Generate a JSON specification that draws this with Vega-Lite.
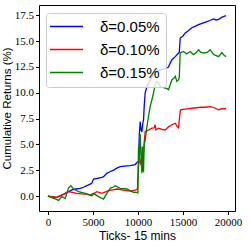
{
  "$schema": "https://vega.github.io/schema/vega-lite/v6.json",
  "width": 196,
  "height": 206,
  "autosize": {"type": "none"},
  "padding": {"left": 39, "top": 5, "right": 14, "bottom": 38},
  "config": {
    "view": {"stroke": "#000000", "strokeWidth": 1},
    "axis": {
      "labelFont": "Liberation Serif",
      "labelFontSize": 11,
      "labelColor": "#000000",
      "titleFont": "Liberation Sans",
      "titleFontSize": 12,
      "titleFontWeight": "normal",
      "titleColor": "#000000",
      "tickColor": "#000000",
      "tickSize": 3.5,
      "labelPadding": 2,
      "domain": false,
      "grid": false
    }
  },
  "datasets": {
    "returns": [
      {"x": 0, "y": 0, "s": "δ=0.05%"}, {"x": 300, "y": -0.05, "s": "δ=0.05%"}, {"x": 600, "y": -0.1, "s": "δ=0.05%"}, {"x": 1000, "y": -0.13, "s": "δ=0.05%"}, {"x": 1300, "y": 0.0, "s": "δ=0.05%"}, {"x": 1740, "y": 0.16, "s": "δ=0.05%"}, {"x": 2000, "y": 0.3, "s": "δ=0.05%"}, {"x": 2300, "y": 0.42, "s": "δ=0.05%"}, {"x": 2670, "y": 0.6, "s": "δ=0.05%"}, {"x": 3100, "y": 0.68, "s": "δ=0.05%"}, {"x": 3590, "y": 0.75, "s": "δ=0.05%"}, {"x": 3950, "y": 0.85, "s": "δ=0.05%"}, {"x": 4330, "y": 1.0, "s": "δ=0.05%"}, {"x": 4700, "y": 1.15, "s": "δ=0.05%"}, {"x": 4890, "y": 1.25, "s": "δ=0.05%"}, {"x": 5070, "y": 1.65, "s": "δ=0.05%"}, {"x": 5500, "y": 1.72, "s": "δ=0.05%"}, {"x": 6000, "y": 1.8, "s": "δ=0.05%"}, {"x": 6180, "y": 1.87, "s": "δ=0.05%"}, {"x": 6550, "y": 2.2, "s": "δ=0.05%"}, {"x": 6900, "y": 2.35, "s": "δ=0.05%"}, {"x": 7290, "y": 2.5, "s": "δ=0.05%"}, {"x": 7650, "y": 2.7, "s": "δ=0.05%"}, {"x": 8030, "y": 2.85, "s": "δ=0.05%"}, {"x": 8500, "y": 2.9, "s": "δ=0.05%"}, {"x": 9140, "y": 2.95, "s": "δ=0.05%"}, {"x": 9700, "y": 3.05, "s": "δ=0.05%"}, {"x": 9950, "y": 3.3, "s": "δ=0.05%"}, {"x": 10070, "y": 3.35, "s": "δ=0.05%"}, {"x": 10150, "y": 5.8, "s": "δ=0.05%"}, {"x": 10250, "y": 7.2, "s": "δ=0.05%"}, {"x": 10350, "y": 6.4, "s": "δ=0.05%"}, {"x": 10440, "y": 6.2, "s": "δ=0.05%"}, {"x": 10540, "y": 7.0, "s": "δ=0.05%"}, {"x": 10630, "y": 7.4, "s": "δ=0.05%"}, {"x": 10700, "y": 8.7, "s": "δ=0.05%"}, {"x": 10810, "y": 10.0, "s": "δ=0.05%"}, {"x": 11000, "y": 10.6, "s": "δ=0.05%"}, {"x": 11180, "y": 10.9, "s": "δ=0.05%"}, {"x": 11370, "y": 11.26, "s": "δ=0.05%"}, {"x": 11550, "y": 11.5, "s": "δ=0.05%"}, {"x": 11740, "y": 11.75, "s": "δ=0.05%"}, {"x": 11920, "y": 11.95, "s": "δ=0.05%"}, {"x": 12110, "y": 12.07, "s": "δ=0.05%"}, {"x": 12480, "y": 12.2, "s": "δ=0.05%"}, {"x": 12850, "y": 12.3, "s": "δ=0.05%"}, {"x": 13200, "y": 12.4, "s": "δ=0.05%"}, {"x": 13400, "y": 12.5, "s": "δ=0.05%"}, {"x": 13600, "y": 12.9, "s": "δ=0.05%"}, {"x": 13780, "y": 13.2, "s": "δ=0.05%"}, {"x": 14150, "y": 13.5, "s": "δ=0.05%"}, {"x": 14520, "y": 13.85, "s": "δ=0.05%"}, {"x": 14600, "y": 13.9, "s": "δ=0.05%"}, {"x": 14700, "y": 15.3, "s": "δ=0.05%"}, {"x": 15000, "y": 15.5, "s": "δ=0.05%"}, {"x": 15260, "y": 15.8, "s": "δ=0.05%"}, {"x": 15600, "y": 16.0, "s": "δ=0.05%"}, {"x": 16000, "y": 16.3, "s": "δ=0.05%"}, {"x": 16400, "y": 16.45, "s": "δ=0.05%"}, {"x": 16740, "y": 16.6, "s": "δ=0.05%"}, {"x": 17200, "y": 16.75, "s": "δ=0.05%"}, {"x": 17670, "y": 16.9, "s": "δ=0.05%"}, {"x": 18000, "y": 17.0, "s": "δ=0.05%"}, {"x": 18400, "y": 17.15, "s": "δ=0.05%"}, {"x": 18700, "y": 17.05, "s": "δ=0.05%"}, {"x": 18960, "y": 17.1, "s": "δ=0.05%"}, {"x": 19300, "y": 17.3, "s": "δ=0.05%"}, {"x": 19700, "y": 17.45, "s": "δ=0.05%"}, {"x": 19800, "y": 17.45, "s": "δ=0.05%"},

      {"x": 0, "y": 0, "s": "δ=0.10%"}, {"x": 500, "y": -0.05, "s": "δ=0.10%"}, {"x": 1000, "y": -0.13, "s": "δ=0.10%"}, {"x": 1400, "y": 0.05, "s": "δ=0.10%"}, {"x": 1740, "y": 0.16, "s": "δ=0.10%"}, {"x": 2300, "y": 0.42, "s": "δ=0.10%"}, {"x": 2700, "y": 0.35, "s": "δ=0.10%"}, {"x": 3220, "y": 0.26, "s": "δ=0.10%"}, {"x": 3800, "y": 0.2, "s": "δ=0.10%"}, {"x": 4330, "y": 0.16, "s": "δ=0.10%"}, {"x": 4890, "y": 0.03, "s": "δ=0.10%"}, {"x": 5200, "y": 0.3, "s": "δ=0.10%"}, {"x": 5440, "y": 0.42, "s": "δ=0.10%"}, {"x": 6000, "y": 0.26, "s": "δ=0.10%"}, {"x": 6400, "y": 0.4, "s": "δ=0.10%"}, {"x": 6740, "y": 0.52, "s": "δ=0.10%"}, {"x": 7200, "y": 0.6, "s": "δ=0.10%"}, {"x": 7670, "y": 0.68, "s": "δ=0.10%"}, {"x": 8400, "y": 0.58, "s": "δ=0.10%"}, {"x": 9140, "y": 0.48, "s": "δ=0.10%"}, {"x": 9700, "y": 0.58, "s": "δ=0.10%"}, {"x": 9950, "y": 0.68, "s": "δ=0.10%"}, {"x": 10050, "y": 2.8, "s": "δ=0.10%"}, {"x": 10150, "y": 3.3, "s": "δ=0.10%"}, {"x": 10250, "y": 3.5, "s": "δ=0.10%"}, {"x": 10350, "y": 3.0, "s": "δ=0.10%"}, {"x": 10440, "y": 3.8, "s": "δ=0.10%"}, {"x": 10500, "y": 3.1, "s": "δ=0.10%"}, {"x": 10630, "y": 4.1, "s": "δ=0.10%"}, {"x": 10700, "y": 5.2, "s": "δ=0.10%"}, {"x": 10810, "y": 6.24, "s": "δ=0.10%"}, {"x": 11000, "y": 6.3, "s": "δ=0.10%"}, {"x": 11180, "y": 6.4, "s": "δ=0.10%"}, {"x": 11550, "y": 6.57, "s": "δ=0.10%"}, {"x": 11800, "y": 6.6, "s": "δ=0.10%"}, {"x": 11920, "y": 6.9, "s": "δ=0.10%"}, {"x": 12000, "y": 6.4, "s": "δ=0.10%"}, {"x": 12290, "y": 6.57, "s": "δ=0.10%"}, {"x": 12700, "y": 6.45, "s": "δ=0.10%"}, {"x": 13030, "y": 6.4, "s": "δ=0.10%"}, {"x": 13400, "y": 6.7, "s": "δ=0.10%"}, {"x": 13780, "y": 6.9, "s": "δ=0.10%"}, {"x": 14150, "y": 7.05, "s": "δ=0.10%"}, {"x": 14350, "y": 6.75, "s": "δ=0.10%"}, {"x": 14520, "y": 6.6, "s": "δ=0.10%"}, {"x": 14650, "y": 7.8, "s": "δ=0.10%"}, {"x": 14740, "y": 8.35, "s": "δ=0.10%"}, {"x": 15000, "y": 8.4, "s": "δ=0.10%"}, {"x": 15500, "y": 8.45, "s": "δ=0.10%"}, {"x": 16000, "y": 8.5, "s": "δ=0.10%"}, {"x": 16500, "y": 8.55, "s": "δ=0.10%"}, {"x": 17000, "y": 8.6, "s": "δ=0.10%"}, {"x": 17500, "y": 8.6, "s": "δ=0.10%"}, {"x": 18040, "y": 8.65, "s": "δ=0.10%"}, {"x": 18500, "y": 8.55, "s": "δ=0.10%"}, {"x": 18960, "y": 8.35, "s": "δ=0.10%"}, {"x": 19300, "y": 8.45, "s": "δ=0.10%"}, {"x": 19800, "y": 8.45, "s": "δ=0.10%"},

      {"x": 0, "y": 0, "s": "δ=0.15%"}, {"x": 300, "y": -0.1, "s": "δ=0.15%"}, {"x": 620, "y": -0.23, "s": "δ=0.15%"}, {"x": 900, "y": -0.3, "s": "δ=0.15%"}, {"x": 1180, "y": -0.42, "s": "δ=0.15%"}, {"x": 1550, "y": -0.06, "s": "δ=0.15%"}, {"x": 1920, "y": -0.25, "s": "δ=0.15%"}, {"x": 2300, "y": 0.8, "s": "δ=0.15%"}, {"x": 2550, "y": 1.0, "s": "δ=0.15%"}, {"x": 2850, "y": 0.68, "s": "δ=0.15%"}, {"x": 3400, "y": 0.42, "s": "δ=0.15%"}, {"x": 4150, "y": 0.26, "s": "δ=0.15%"}, {"x": 4700, "y": 0.1, "s": "δ=0.15%"}, {"x": 5070, "y": 0.26, "s": "δ=0.15%"}, {"x": 5620, "y": -0.06, "s": "δ=0.15%"}, {"x": 6180, "y": -0.3, "s": "δ=0.15%"}, {"x": 6550, "y": 0.26, "s": "δ=0.15%"}, {"x": 6920, "y": 0.75, "s": "δ=0.15%"}, {"x": 7200, "y": 0.85, "s": "δ=0.15%"}, {"x": 7480, "y": 1.0, "s": "δ=0.15%"}, {"x": 8030, "y": 0.75, "s": "δ=0.15%"}, {"x": 8780, "y": 0.68, "s": "δ=0.15%"}, {"x": 9200, "y": 0.5, "s": "δ=0.15%"}, {"x": 9510, "y": 0.36, "s": "δ=0.15%"}, {"x": 9890, "y": 0.36, "s": "δ=0.15%"}, {"x": 10000, "y": 0.3, "s": "δ=0.15%"}, {"x": 10070, "y": 4.8, "s": "δ=0.15%"}, {"x": 10150, "y": 3.5, "s": "δ=0.15%"}, {"x": 10250, "y": 6.0, "s": "δ=0.15%"}, {"x": 10350, "y": 3.8, "s": "δ=0.15%"}, {"x": 10440, "y": 2.2, "s": "δ=0.15%"}, {"x": 10500, "y": 4.8, "s": "δ=0.15%"}, {"x": 10550, "y": 2.5, "s": "δ=0.15%"}, {"x": 10630, "y": 2.4, "s": "δ=0.15%"}, {"x": 10700, "y": 5.0, "s": "δ=0.15%"}, {"x": 10810, "y": 5.4, "s": "δ=0.15%"}, {"x": 11000, "y": 6.7, "s": "δ=0.15%"}, {"x": 11180, "y": 7.7, "s": "δ=0.15%"}, {"x": 11370, "y": 8.7, "s": "δ=0.15%"}, {"x": 11550, "y": 9.3, "s": "δ=0.15%"}, {"x": 11740, "y": 10.0, "s": "δ=0.15%"}, {"x": 11920, "y": 10.8, "s": "δ=0.15%"}, {"x": 12110, "y": 11.1, "s": "δ=0.15%"}, {"x": 12300, "y": 10.9, "s": "δ=0.15%"}, {"x": 12480, "y": 10.6, "s": "δ=0.15%"}, {"x": 12850, "y": 10.5, "s": "δ=0.15%"}, {"x": 13220, "y": 10.4, "s": "δ=0.15%"}, {"x": 13400, "y": 10.3, "s": "δ=0.15%"}, {"x": 13600, "y": 10.8, "s": "δ=0.15%"}, {"x": 13780, "y": 11.26, "s": "δ=0.15%"}, {"x": 14000, "y": 11.4, "s": "δ=0.15%"}, {"x": 14150, "y": 11.6, "s": "δ=0.15%"}, {"x": 14330, "y": 11.1, "s": "δ=0.15%"}, {"x": 14520, "y": 11.26, "s": "δ=0.15%"}, {"x": 14600, "y": 11.5, "s": "δ=0.15%"}, {"x": 14700, "y": 13.85, "s": "δ=0.15%"}, {"x": 15070, "y": 14.0, "s": "δ=0.15%"}, {"x": 15400, "y": 13.75, "s": "δ=0.15%"}, {"x": 15810, "y": 14.0, "s": "δ=0.15%"}, {"x": 16180, "y": 13.7, "s": "δ=0.15%"}, {"x": 16500, "y": 13.9, "s": "δ=0.15%"}, {"x": 16740, "y": 14.17, "s": "δ=0.15%"}, {"x": 17000, "y": 13.9, "s": "δ=0.15%"}, {"x": 17290, "y": 13.85, "s": "δ=0.15%"}, {"x": 17700, "y": 13.9, "s": "δ=0.15%"}, {"x": 18030, "y": 14.17, "s": "δ=0.15%"}, {"x": 18400, "y": 13.7, "s": "δ=0.15%"}, {"x": 18700, "y": 13.6, "s": "δ=0.15%"}, {"x": 18960, "y": 13.5, "s": "δ=0.15%"}, {"x": 19330, "y": 13.9, "s": "δ=0.15%"}, {"x": 19600, "y": 13.6, "s": "δ=0.15%"}, {"x": 19810, "y": 13.5, "s": "δ=0.15%"}
    ]
  },
  "data": {"name": "returns"},
  "mark": {"type": "line", "strokeWidth": 1.3, "clip": true},
  "encoding": {
    "x": {
      "field": "x",
      "type": "quantitative",
      "scale": {"domain": [-990, 20790], "nice": false, "zero": false},
      "axis": {"values": [0, 5000, 10000, 15000, 20000], "format": "d", "title": "Ticks- 15 mins", "titlePadding": 3}
    },
    "y": {
      "field": "y",
      "type": "quantitative",
      "scale": {"domain": [-1.45, 18.5], "nice": false, "zero": false},
      "axis": {"values": [0, 2.5, 5, 7.5, 10, 12.5, 15, 17.5], "format": ".1f", "title": "Cumulative Returns (%)", "titlePadding": 2, "titleFontSize": 11.5}
    },
    "color": {
      "field": "s",
      "type": "nominal",
      "scale": {"domain": ["δ=0.05%", "δ=0.10%", "δ=0.15%"], "range": ["#0000ff", "#ff0000", "#008000"]},
      "legend": {
        "orient": "none",
        "legendX": 7,
        "legendY": 8,
        "title": null,
        "symbolType": "M-4.4,0H4.4",
        "symbolSize": 56.25,
        "symbolOffset": 7,
        "symbolStrokeWidth": 1.5,
        "labelFont": "Liberation Sans",
        "labelFontSize": 15,
        "labelColor": "#000000",
        "labelOffset": 26,
        "rowPadding": 7,
        "padding": 6,
        "fillColor": "rgba(255,255,255,0.8)",
        "strokeColor": "#cccccc",
        "cornerRadius": 3
      }
    }
  }
}
